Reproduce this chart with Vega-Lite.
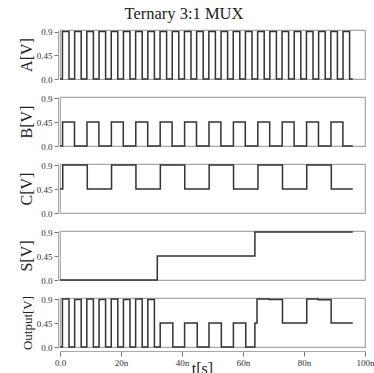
{
  "$schema": "https://vega.github.io/schema/vega-lite/v6.json",
  "padding": {"left": 17, "right": 0, "top": 6, "bottom": 0},
  "bounds": "flush",
  "spacing": 18,
  "title": {
    "text": "Ternary 3:1 MUX",
    "font": "Liberation Serif",
    "fontSize": 16.5,
    "fontWeight": "normal",
    "color": "#222222",
    "anchor": "middle",
    "dx": -12,
    "offset": 4
  },
  "config": {
    "view": {"stroke": "#a8a8a8", "strokeWidth": 1.2},
    "font": "Liberation Serif",
    "axis": {
      "grid": false,
      "labelFont": "Liberation Serif",
      "labelFontSize": 9,
      "labelColor": "#333333",
      "labelFlush": false,
      "labelOverlap": false,
      "domainColor": "#a8a8a8",
      "tickColor": "#777777",
      "titleFont": "Liberation Serif",
      "titleFontWeight": "normal",
      "titleColor": "#222222"
    },
    "axisY": {
      "offset": 2,
      "tickSize": 4,
      "labelPadding": 2,
      "minExtent": 22,
      "maxExtent": 22,
      "titlePadding": 2,
      "titleFontSize": 16
    },
    "line": {"color": "#333333", "strokeWidth": 1.5, "interpolate": "step-after"}
  },
  "datasets": {
    "A": [
      {"t": 0, "v": 0},
      {"t": 0.8, "v": 0.9}, {"t": 2.95, "v": 0},
      {"t": 4.8, "v": 0.9}, {"t": 6.95, "v": 0},
      {"t": 8.8, "v": 0.9}, {"t": 10.95, "v": 0},
      {"t": 12.8, "v": 0.9}, {"t": 14.95, "v": 0},
      {"t": 16.8, "v": 0.9}, {"t": 18.95, "v": 0},
      {"t": 20.8, "v": 0.9}, {"t": 22.95, "v": 0},
      {"t": 24.8, "v": 0.9}, {"t": 26.95, "v": 0},
      {"t": 28.8, "v": 0.9}, {"t": 30.95, "v": 0},
      {"t": 32.8, "v": 0.9}, {"t": 34.95, "v": 0},
      {"t": 36.8, "v": 0.9}, {"t": 38.95, "v": 0},
      {"t": 40.8, "v": 0.9}, {"t": 42.95, "v": 0},
      {"t": 44.8, "v": 0.9}, {"t": 46.95, "v": 0},
      {"t": 48.8, "v": 0.9}, {"t": 50.95, "v": 0},
      {"t": 52.8, "v": 0.9}, {"t": 54.95, "v": 0},
      {"t": 56.8, "v": 0.9}, {"t": 58.95, "v": 0},
      {"t": 60.8, "v": 0.9}, {"t": 62.95, "v": 0},
      {"t": 64.8, "v": 0.9}, {"t": 66.95, "v": 0},
      {"t": 68.8, "v": 0.9}, {"t": 70.95, "v": 0},
      {"t": 72.8, "v": 0.9}, {"t": 74.95, "v": 0},
      {"t": 76.8, "v": 0.9}, {"t": 78.95, "v": 0},
      {"t": 80.8, "v": 0.9}, {"t": 82.95, "v": 0},
      {"t": 84.8, "v": 0.9}, {"t": 86.95, "v": 0},
      {"t": 88.8, "v": 0.9}, {"t": 90.95, "v": 0},
      {"t": 92.8, "v": 0.9}, {"t": 94.95, "v": 0},
      {"t": 96, "v": 0}
    ],
    "B": [
      {"t": 0, "v": 0},
      {"t": 0.85, "v": 0.45}, {"t": 4.75, "v": 0},
      {"t": 8.85, "v": 0.45}, {"t": 12.75, "v": 0},
      {"t": 16.85, "v": 0.45}, {"t": 20.75, "v": 0},
      {"t": 24.85, "v": 0.45}, {"t": 28.75, "v": 0},
      {"t": 32.85, "v": 0.45}, {"t": 36.75, "v": 0},
      {"t": 40.85, "v": 0.45}, {"t": 44.75, "v": 0},
      {"t": 48.85, "v": 0.45}, {"t": 52.75, "v": 0},
      {"t": 56.85, "v": 0.45}, {"t": 60.75, "v": 0},
      {"t": 64.85, "v": 0.45}, {"t": 68.75, "v": 0},
      {"t": 72.85, "v": 0.45}, {"t": 76.75, "v": 0},
      {"t": 80.85, "v": 0.45}, {"t": 84.75, "v": 0},
      {"t": 88.85, "v": 0.45}, {"t": 92.75, "v": 0},
      {"t": 96, "v": 0}
    ],
    "C": [
      {"t": 0, "v": 0.45},
      {"t": 0.9, "v": 0.9}, {"t": 8.95, "v": 0.45},
      {"t": 16.9, "v": 0.9}, {"t": 24.9, "v": 0.45},
      {"t": 32.9, "v": 0.9}, {"t": 40.9, "v": 0.45},
      {"t": 48.9, "v": 0.9}, {"t": 56.9, "v": 0.45},
      {"t": 64.9, "v": 0.9}, {"t": 72.95, "v": 0.45},
      {"t": 80.9, "v": 0.9}, {"t": 88.95, "v": 0.45},
      {"t": 96, "v": 0.45}
    ],
    "S": [
      {"t": 0, "v": 0},
      {"t": 31.9, "v": 0.45},
      {"t": 63.9, "v": 0.9},
      {"t": 96, "v": 0.9}
    ],
    "Output": [
      {"t": 0, "v": 0},
      {"t": 0.8, "v": 0.9}, {"t": 2.95, "v": 0},
      {"t": 4.8, "v": 0.89}, {"t": 6.95, "v": 0},
      {"t": 8.8, "v": 0.9}, {"t": 10.95, "v": 0},
      {"t": 12.8, "v": 0.89}, {"t": 14.95, "v": 0},
      {"t": 16.8, "v": 0.9}, {"t": 18.95, "v": 0},
      {"t": 20.8, "v": 0.89}, {"t": 22.95, "v": 0},
      {"t": 24.8, "v": 0.9}, {"t": 26.95, "v": 0},
      {"t": 28.8, "v": 0.89}, {"t": 30.95, "v": 0},
      {"t": 32.85, "v": 0.45}, {"t": 37.0, "v": 0},
      {"t": 40.85, "v": 0.45}, {"t": 45.0, "v": 0},
      {"t": 48.85, "v": 0.45}, {"t": 52.9, "v": 0},
      {"t": 56.85, "v": 0.45}, {"t": 60.9, "v": 0},
      {"t": 63.9, "v": 0.45}, {"t": 64.6, "v": 0.9},
      {"t": 68.6, "v": 0.89}, {"t": 72.95, "v": 0.45},
      {"t": 80.9, "v": 0.9}, {"t": 84.7, "v": 0.885},
      {"t": 88.9, "v": 0.45},
      {"t": 96, "v": 0.45}
    ]
  },
  "vconcat": [
    {
      "width": 305, "height": 49,
      "data": {"name": "A"},
      "mark": {"type": "line"},
      "encoding": {
        "x": {"field": "t", "type": "quantitative", "scale": {"domain": [0, 100], "nice": false}, "axis": null},
        "y": {"field": "v", "type": "quantitative", "scale": {"domain": [0, 0.93], "nice": false},
              "axis": {"title": "A[V]", "values": [0, 0.45, 0.9], "labelExpr": "datum.value == 0 ? '0.0' : (datum.value == 0.9 ? '0.9' : '0.45')"}}
      }
    },
    {
      "width": 305, "height": 49,
      "data": {"name": "B"},
      "mark": {"type": "line"},
      "encoding": {
        "x": {"field": "t", "type": "quantitative", "scale": {"domain": [0, 100], "nice": false}, "axis": null},
        "y": {"field": "v", "type": "quantitative", "scale": {"domain": [0, 0.92], "nice": false},
              "axis": {"title": "B[V]", "values": [0, 0.45, 0.9], "labelExpr": "datum.value == 0 ? '0.0' : (datum.value == 0.9 ? '0.9' : '0.45')"}}
      }
    },
    {
      "width": 305, "height": 49,
      "data": {"name": "C"},
      "mark": {"type": "line"},
      "encoding": {
        "x": {"field": "t", "type": "quantitative", "scale": {"domain": [0, 100], "nice": false}, "axis": null},
        "y": {"field": "v", "type": "quantitative", "scale": {"domain": [0, 0.92], "nice": false},
              "axis": {"title": "C[V]", "values": [0, 0.45, 0.9], "labelExpr": "datum.value == 0 ? '0.0' : (datum.value == 0.9 ? '0.9' : '0.45')"}}
      }
    },
    {
      "width": 305, "height": 49,
      "data": {"name": "S"},
      "mark": {"type": "line"},
      "encoding": {
        "x": {"field": "t", "type": "quantitative", "scale": {"domain": [0, 100], "nice": false}, "axis": null},
        "y": {"field": "v", "type": "quantitative", "scale": {"domain": [0, 0.92], "nice": false},
              "axis": {"title": "S[V]", "values": [0, 0.45, 0.9], "labelExpr": "datum.value == 0 ? '0.0' : (datum.value == 0.9 ? '0.9' : '0.45')"}}
      }
    },
    {
      "width": 305, "height": 49,
      "data": {"name": "Output"},
      "mark": {"type": "line"},
      "encoding": {
        "x": {
          "field": "t", "type": "quantitative",
          "scale": {"domain": [0, 100], "nice": false},
          "axis": {
            "title": "t[s]",
            "values": [0, 20, 40, 60, 80, 100],
            "labelExpr": "datum.value == 0 ? '0.0' : datum.value + 'n'",
            "offset": 4,
            "tickSize": 5,
            "labelPadding": 2,
            "titleFontSize": 16,
            "titleX": 142,
            "titleY": 22,
            "titleBaseline": "alphabetic"
          }
        },
        "y": {"field": "v", "type": "quantitative", "scale": {"domain": [0, 0.92], "nice": false},
              "axis": {"title": "Output[V]", "titleFontSize": 13, "values": [0, 0.45, 0.9], "labelExpr": "datum.value == 0 ? '0.0' : (datum.value == 0.9 ? '0.9' : '0.45')"}}
      }
    }
  ]
}
